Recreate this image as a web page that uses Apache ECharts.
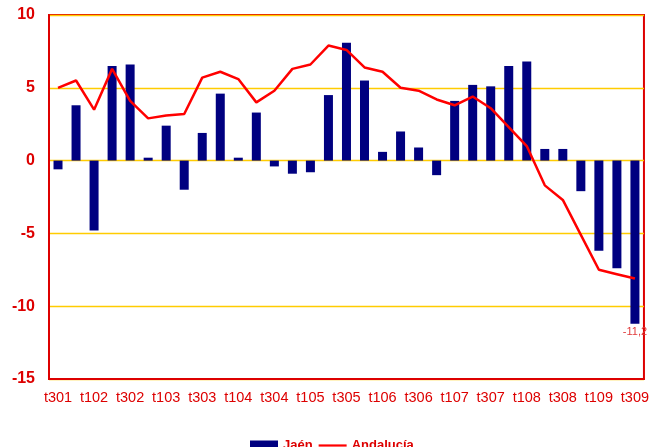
<!DOCTYPE html>
<html>
<head>
<meta charset="utf-8">
<style>
  html, body { margin: 0; padding: 0; background: #ffffff; }
  #chart { width: 652px; height: 447px; }
</style>
<script src="https://cdn.jsdelivr.net/npm/echarts@6/dist/echarts.min.js"></script>
</head>
<body>
<div id="chart"></div>
<script>
// Quarterly periods (quarter digit + year digit), 2001 Q3 to 2009 Q3
const categories = [
  't301', 't401', 't102', 't202', 't302', 't402', 't103', 't203', 't303', 't403',
  't104', 't204', 't304', 't404', 't105', 't205', 't305', 't405', 't106', 't206',
  't306', 't406', 't107', 't207', 't307', 't407', 't108', 't208', 't308', 't408',
  't109', 't209', 't309'
];

// Jaén, year-on-year change (%)
const jaen = [
  -0.6, 3.8, -4.8, 6.5, 6.6, 0.2, 2.4, -2.0, 1.9, 4.6,
  0.2, 3.3, -0.4, -0.9, -0.8, 4.5, 8.1, 5.5, 0.6, 2.0,
  0.9, -1.0, 4.1, 5.2, 5.1, 6.5, 6.8, 0.8, 0.8, -2.1,
  -6.2, -7.4, -11.2
];

// Andalucía, year-on-year change (%)
const andalucia = [
  5.0, 5.5, 3.5, 6.3, 4.1, 2.9, 3.1, 3.2, 5.7, 6.1,
  5.6, 4.0, 4.8, 6.3, 6.6, 7.9, 7.6, 6.4, 6.1, 5.0,
  4.8, 4.2, 3.8, 4.4, 3.6, 2.3, 1.0, -1.7, -2.7, -5.1,
  -7.5, -7.8, -8.1
];

// Y axis scale
const yMin = -15;
const yMax = 10;
const yStep = 5;

const RED = '#dd0000';
const FONT = 'Arial, "Liberation Sans", sans-serif';

const fmtComma = v => String(v).replace('.', ',');

// Only the latest Jaén value carries a value label
const jaenData = jaen.map((v, i) => i === jaen.length - 1
  ? {
      value: v,
      label: {
        show: true,
        position: 'bottom',
        distance: 3,
        color: '#e03a3a',
        fontSize: 11,
        fontFamily: FONT,
        formatter: p => fmtComma(p.value)
      }
    }
  : v);

const chart = echarts.init(document.getElementById('chart'), null, { renderer: 'canvas' });

chart.setOption({
  animation: false,
  backgroundColor: '#ffffff',
  grid: {
    left: 49,
    right: 5,
    top: 15,
    bottom: 68,
    show: true,
    borderColor: RED,
    borderWidth: 2,
    backgroundColor: 'transparent'
  },
  legend: {
    left: 250,
    top: 439,
    padding: 0,
    itemGap: 6,
    itemWidth: 28,
    itemHeight: 10,
    textStyle: { color: RED, fontSize: 13, fontWeight: 'bold', fontFamily: FONT },
    data: [
      { name: 'Jaén', icon: 'rect' },
      // thin horizontal stroke centred in the icon box
      { name: 'Andalucía', icon: 'path://M0,0 M28,10 M0,3.9 H28 V6.1 H0 Z', itemStyle: { color: '#ff0000' } }
    ]
  },
  xAxis: {
    type: 'category',
    data: categories,
    boundaryGap: true,
    axisLine: { show: true, onZero: false, lineStyle: { color: RED, width: 2 } },
    axisTick: { show: false },
    axisLabel: {
      interval: 1,
      color: RED,
      fontSize: 14.5,
      fontFamily: FONT,
      margin: 11
    },
    splitLine: { show: false }
  },
  yAxis: {
    type: 'value',
    min: yMin,
    max: yMax,
    interval: yStep,
    axisLine: { show: true, lineStyle: { color: RED, width: 2 } },
    axisTick: { show: false },
    axisLabel: {
      color: RED,
      fontSize: 16,
      fontWeight: 'bold',
      fontFamily: FONT,
      margin: 14
    },
    splitLine: { show: true, lineStyle: { color: '#ffcc00', width: 1.3 } }
  },
  series: [
    {
      name: 'Jaén',
      type: 'bar',
      data: jaenData,
      barWidth: 9,
      itemStyle: { color: '#000080' },
      z: 2
    },
    {
      name: 'Andalucía',
      type: 'line',
      data: andalucia,
      symbol: 'none',
      showSymbol: false,
      lineStyle: { color: '#ff0000', width: 2.5 },
      itemStyle: { color: '#ff0000' },
      z: 3
    }
  ]
});
</script>
</body>
</html>
